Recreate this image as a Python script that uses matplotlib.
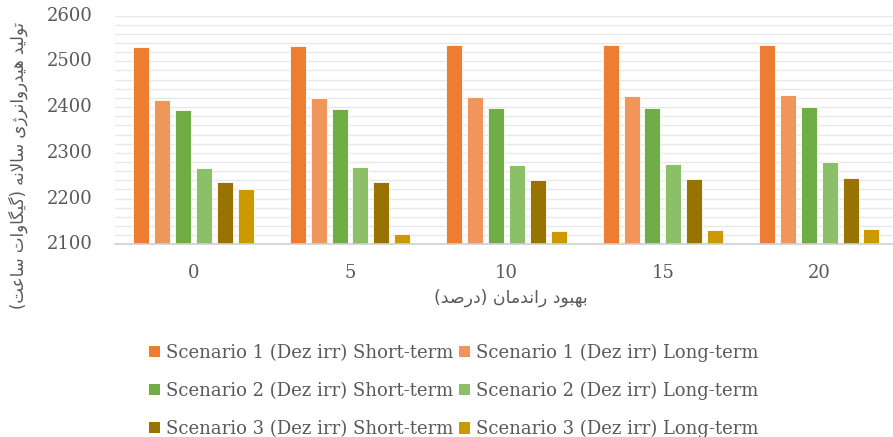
import matplotlib.pyplot as plt
import matplotlib.transforms as mtransforms
import numpy as np
from matplotlib.patches import Patch

# data
efficiency = ['0', '5', '10', '15', '20']
s1_short = [2532, 2534, 2536, 2536, 2536]
s1_long = [2416, 2420, 2422, 2424, 2427]
s2_short = [2394, 2395, 2398, 2398, 2400]
s2_long = [2266, 2268, 2273, 2275, 2280]
s3_short = [2237, 2237, 2240, 2242, 2246]
s3_long = [2221, 2123, 2128, 2131, 2133]
y_ticks = [2100, 2200, 2300, 2400, 2500, 2600]

series_names = ['Scenario 1 (Dez irr) Short-term', 'Scenario 1 (Dez irr) Long-term',
                'Scenario 2 (Dez irr) Short-term', 'Scenario 2 (Dez irr) Long-term',
                'Scenario 3 (Dez irr) Short-term', 'Scenario 3 (Dez irr) Long-term']
colors = ['#ED7D31', '#F0965A', '#70AD47', '#8CC068', '#997300', '#CC9900']

ylabel_fa = 'تولید هیدروانرژی سالانه (گیگاوات ساعت)'
xlabel_fa = 'بهبود راندمان (درصد)'

# Arabic letters -> (isolated, final, initial, medial); 2-tuple = joins on right only
forms = {
    'ا': ('\uFE8D', '\uFE8E'),
    'ب': ('\uFE8F', '\uFE90', '\uFE91', '\uFE92'),
    'ت': ('\uFE95', '\uFE96', '\uFE97', '\uFE98'),
    'د': ('\uFEA9', '\uFEAA'),
    'ر': ('\uFEAD', '\uFEAE'),
    'ژ': ('\uFB8A', '\uFB8B'),
    'س': ('\uFEB1', '\uFEB2', '\uFEB3', '\uFEB4'),
    'ص': ('\uFEB9', '\uFEBA', '\uFEBB', '\uFEBC'),
    'ع': ('\uFEC9', '\uFECA', '\uFECB', '\uFECC'),
    'گ': ('\uFB92', '\uFB93', '\uFB94', '\uFB95'),
    'ل': ('\uFEDD', '\uFEDE', '\uFEDF', '\uFEE0'),
    'م': ('\uFEE1', '\uFEE2', '\uFEE3', '\uFEE4'),
    'ن': ('\uFEE5', '\uFEE6', '\uFEE7', '\uFEE8'),
    'ه': ('\uFEE9', '\uFEEA', '\uFEEB', '\uFEEC'),
    'و': ('\uFEED', '\uFEEE'),
    'ی': ('\uFBFC', '\uFBFD', '\uFBFE', '\uFBFF'),
}


def shape(text):
    out = []
    prev_dual = False
    i = 0
    while i < len(text):
        ch = text[i]
        if ch not in forms:
            out.append(ch)
            prev_dual = False
            i += 1
            continue
        nxt = text[i + 1] if i + 1 < len(text) else ''
        if ch == 'ل' and nxt == 'ا':
            out.append('\uFEFC' if prev_dual else '\uFEFB')
            prev_dual = False
            i += 2
            continue
        f = forms[ch]
        dual = len(f) == 4
        next_joins = dual and nxt in forms
        if prev_dual and next_joins:
            out.append(f[3])
        elif prev_dual:
            out.append(f[1])
        elif next_joins:
            out.append(f[2])
        else:
            out.append(f[0])
        prev_dual = dual
        i += 1
    vis = ''.join(out)[::-1]
    return vis.translate(str.maketrans('()', ')('))


W, H = 893, 437
fig = plt.figure(figsize=(W / 100, H / 100), dpi=100)
ax = fig.add_axes([115.4 / W, 1 - 244.3 / H, 782.1 / W, 228.7 / H])

tc = '#595959'
latin = ['DejaVu Serif']
arab = ['DejaVu Sans']

x = np.arange(len(efficiency))
pitch = 0.1334
width = 0.102
all_series = [s1_short, s1_long, s2_short, s2_long, s3_short, s3_long]
for j, vals in enumerate(all_series):
    ax.bar(x + (j - 2.5) * pitch, np.array(vals) - 2100, bottom=2100, width=width,
           color=colors[j], edgecolor='#FFFFFF', linewidth=0.6, zorder=3)

ax.set_xlim(-0.5, 4.5)
ax.set_ylim(2100, 2600)
ax.set_yticks(y_ticks)
ax.set_yticks(np.arange(2100, 2601, 20), minor=True)
ax.set_yticklabels([])
ax.grid(axis='y', which='both', color='#E8E8E8', linewidth=1, zorder=0)
ax.set_xticks(x)
ax.set_xticklabels(efficiency)
ax.tick_params(axis='both', which='both', length=0)
ax.xaxis.set_tick_params(which='major', pad=14)
for lab in ax.get_xticklabels():
    lab.set_family(latin)
    lab.set_fontsize(13)
    lab.set_color(tc)

# y tick labels: left-aligned in a column well left of the plot area
ytrans = mtransforms.blended_transform_factory(fig.transFigure, ax.transData)
for v in y_ticks:
    ax.text(47 / W, v, str(v), transform=ytrans, ha='left', va='center',
            family=latin, fontsize=13, color=tc, clip_on=False)

for s in ['top', 'right', 'left']:
    ax.spines[s].set_visible(False)
ax.spines['bottom'].set_color('#D0D0D0')
ax.spines['bottom'].set_linewidth(1.2)
ax.spines['bottom'].set_zorder(4)

fig.text(18 / W, 1 - 165 / H, shape(ylabel_fa), rotation=90, ha='center', va='center',
         family=arab, fontsize=12, color=tc)
fig.text(511 / W, 1 - 298 / H, shape(xlabel_fa), ha='center', va='center',
         family=arab, fontsize=12.5, color=tc)

handles = [Patch(facecolor=c, edgecolor='none') for c in colors]
order = [0, 2, 4, 1, 3, 5]
fig.legend([handles[k] for k in order], [series_names[k] for k in order],
           loc='center', bbox_to_anchor=(454 / W, 1 - 391 / H), ncol=2, frameon=False,
           prop={'family': latin, 'size': 13}, labelcolor=tc,
           handlelength=0.6, handleheight=0.6, handletextpad=0.35,
           columnspacing=0.3, labelspacing=1.1, borderpad=0)

fig.savefig('out.png', dpi=100)
